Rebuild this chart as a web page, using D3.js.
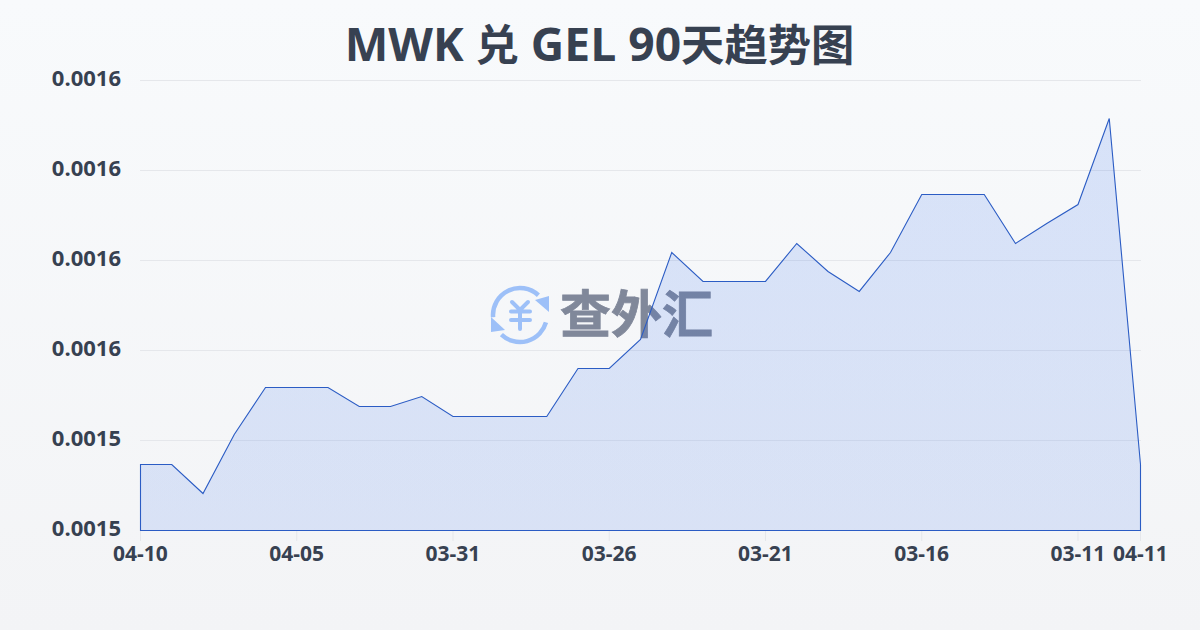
<!DOCTYPE html>
<html><head><meta charset="utf-8">
<script src="https://cdn.jsdelivr.net/npm/d3@7"></script>
<style>
html,body{margin:0;padding:0;width:1200px;height:630px;overflow:hidden}
text{font-family:"Open Sans","Noto Sans CJK SC",sans-serif}
</style></head><body>
<svg id="c" width="1200" height="630" xmlns="http://www.w3.org/2000/svg"></svg>
<script>
const titleParts = ["MWK ","兑"," GEL 90","天趋势图"];
const dates = ["04-10","04-09","04-08","04-07","04-06","04-05","04-04","04-03","04-02","04-01","03-31","03-30","03-29","03-28","03-27","03-26","03-25","03-24","03-23","03-22","03-21","03-20","03-19","03-18","03-17","03-16","03-15","03-14","03-13","03-12","03-11","03-10","04-11"];
const rates = [0.00153733,0.00153733,0.00153411,0.00154067,0.00154589,0.00154589,0.00154589,0.00154378,0.00154378,0.00154489,0.00154267,0.00154267,0.00154267,0.00154267,0.00154800,0.00154800,0.00155122,0.00156089,0.00155767,0.00155767,0.00155767,0.00156189,0.00155878,0.00155656,0.00156089,0.00156733,0.00156733,0.00156733,0.00156189,0.00156411,0.00156622,0.00157578,0.00153733];
const yTicks = [0.00153,0.00154,0.00155,0.00156,0.00157,0.00158];
const yTickLabels = ["0.0015","0.0015","0.0016","0.0016","0.0016","0.0016"];
const xTickLabels = ["04-10","04-05","03-31","03-26","03-21","03-16","03-11","04-11"];
const watermarkText = "查外汇";

const svg = d3.select("#c");
const defs = svg.append("defs");
const bg = defs.append("linearGradient").attr("id","bg").attr("x1",0).attr("y1",0).attr("x2",0).attr("y2",1);
bg.append("stop").attr("offset",0).attr("stop-color","#f8fafc");
bg.append("stop").attr("offset",1).attr("stop-color","#f3f4f6");
svg.append("rect").attr("width",1200).attr("height",630).attr("fill","url(#bg)");

const idx = d3.range(dates.length);
const x = d3.scaleLinear().domain([0,dates.length-1]).range([140.5,1140.5]);
const y = d3.scaleLinear().domain([yTicks[0],yTicks[yTicks.length-1]]).range([530.5,80.5]);

// grid
svg.append("g").selectAll("line").data(yTicks.slice(1)).join("line")
  .attr("x1",140).attr("x2",1141).attr("y1",d=>y(d)).attr("y2",d=>y(d))
  .attr("stroke","#e5e7eb").attr("stroke-width",1);

// y labels
svg.append("g").selectAll("text").data(yTicks).join("text")
  .attr("x",121).attr("y",d=>y(d)-2.5).attr("dy","0.35em").attr("text-anchor","end")
  .attr("font-size",22).attr("font-weight",700).attr("fill","#374151")
  .text((d,i)=>yTickLabels[i]);

// x ticks
const xIdx = xTickLabels.map((l,i)=> i===xTickLabels.length-1 ? dates.length-1 : dates.indexOf(l));
const xg = svg.append("g");
xg.selectAll("line").data(xIdx).join("line")
  .attr("x1",d=>x(d)).attr("x2",d=>x(d)).attr("y1",530).attr("y2",541)
  .attr("stroke","#e5e7eb");
xg.selectAll("text").data(xIdx).join("text")
  .attr("x",d=>x(d)).attr("y",561).attr("text-anchor","middle")
  .attr("font-size",21).attr("font-weight",700).attr("fill","#374151")
  .text((d,i)=>xTickLabels[i]);

// watermark
const wm = svg.append("g");
const ic = wm.append("g").attr("transform","translate(520,315)").attr("fill","none").attr("stroke","#9dc0f8").attr("stroke-linecap","round");
const arc = d3.arc().innerRadius(27).outerRadius(27);
ic.append("path").attr("d",arc({startAngle:-1.65,endAngle:0.75})).attr("stroke-width",4.5);
ic.append("path").attr("d",arc({startAngle:1.85,endAngle:3.9})).attr("stroke-width",4.5);
ic.append("path").attr("d","M15,-15L29,-19L29,-3Z").attr("fill","#9dc0f8").attr("stroke","none");
ic.append("path").attr("d","M-29,2L-29,17L-15,15Z").attr("fill","#9dc0f8").attr("stroke","none");
ic.append("path").attr("d","M-8,-13L0,-5L8,-13M-9,-3.5H10M-9,5H10M0,-5V14").attr("stroke-width",4);
wm.append("text").attr("x",560).attr("y",333).attr("font-size",51).attr("font-weight",700)
  .attr("fill","#80889a").attr("stroke","#80889a").attr("stroke-width",0.8).text(watermarkText);

// area
const area = d3.area().x(i=>x(i)).y0(y(yTicks[0])).y1(i=>y(rates[i]));
const ag = defs.append("linearGradient").attr("id","ag").attr("x1",0).attr("y1",0).attr("x2",0).attr("y2",1);
ag.append("stop").attr("offset",0).attr("stop-color","#2563eb").attr("stop-opacity",0.15);
ag.append("stop").attr("offset",1).attr("stop-color","#2563eb").attr("stop-opacity",0.13);
svg.append("path").datum(idx).attr("d",area).attr("fill","url(#ag)").attr("stroke","#2b5cc4").attr("stroke-width",1.1);

// title
svg.append("text").attr("x",599.5).attr("y",61).attr("text-anchor","middle")
  .attr("font-weight",700).attr("fill","#374151").attr("xml:space","preserve").style("white-space","pre")
  .selectAll("tspan").data(titleParts).join("tspan")
  .attr("font-size",(d,i)=>i%2===0?46.2:43.3).text(d=>d);
</script>
</body></html>
